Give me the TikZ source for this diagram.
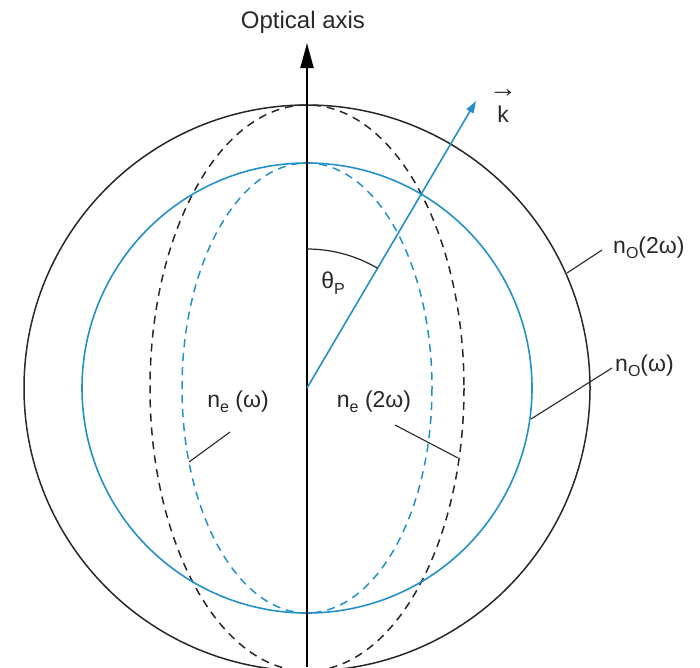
\documentclass[tikz,border=0pt]{standalone}
\usepackage{fontspec}
\setmainfont{Liberation Sans}
\usetikzlibrary{arrows.meta}
\definecolor{cblue}{RGB}{35,145,200}
\definecolor{cgray}{RGB}{40,40,40}
\newcommand{\lsub}[1]{\raisebox{-0.45ex}{\fontsize{16}{16}\selectfont #1}}
\tikzset{
  lab/.style={font=\fontsize{23}{23}\selectfont, text=cgray, inner sep=1pt},
  leader/.style={draw=cgray, line width=1.1pt},
  solidblack/.style={draw=cgray, line width=1.5pt},
  solidblue/.style={draw=cblue, line width=1.6pt},
  dashblack/.style={draw=cgray, line width=1.5pt, dash pattern=on 8pt off 6pt},
  dashblue/.style={draw=cblue, line width=1.5pt, dash pattern=on 8pt off 6pt},
}
\begin{document}
\begin{tikzpicture}[x=1pt,y=-1pt]
\useasboundingbox (0,0) rectangle (700,667);
\begin{scope}
\clip (0,0) rectangle (700,667);
\coordinate (O) at (307,388);
% circles and ellipses
\draw[solidblack] (O) circle[radius=283];
\draw[dashblack] (O) ellipse[x radius=157, y radius=283];
\draw[solidblue] (O) circle[radius=225];
\draw[dashblue] (O) ellipse[x radius=125, y radius=225];
% optical axis
\coordinate (axbot) at (307,667);
\coordinate (axtop) at (307,43);
\draw[line width=2pt, -{Triangle[length=25pt,width=13pt]}] (axbot) -- (axtop);
% k vector
\coordinate (ktip) at (476,101);
\draw[draw=cblue, line width=1.6pt, -{Triangle[length=12pt,width=8pt]}, cblue] (O) -- (ktip);
% theta arc
\draw[draw=cgray, line width=1.2pt] (O) ++(-90:139) arc[start angle=-90, end angle=-59.4, radius=139];
\end{scope}
% labels
\node[lab, font=\fontsize{24}{24}\selectfont] (optax) at (303,22) {Optical axis};
\node[lab, inner sep=0pt] (klab) at (503,114) {k};
\node[lab, inner sep=0pt, font=\fontsize{28}{28}\selectfont] (karrow) at (503,94) {→};
\node[lab] (theta) at (333,283) {θ\lsub{P}};
\node[lab, anchor=west] (no2w) at (612,248) {n\lsub{O}(2ω)};
\node[lab, anchor=west] (now) at (614,366) {n\lsub{O}(ω)};
\node[lab] (new) at (238,402) {n\lsub{e} (ω)};
\node[lab] (ne2w) at (374,402) {n\lsub{e} (2ω)};
% leader lines
\coordinate (s1) at (602,250);
\coordinate (a1) at (567,273);
\coordinate (s2) at (612,368);
\coordinate (a2) at (531,419);
\coordinate (s3) at (230,432);
\coordinate (a3) at (189,462);
\coordinate (s4) at (395,425);
\coordinate (a4) at (458,458);
\draw[leader] (s1) -- (a1);
\draw[leader] (s2) -- (a2);
\draw[leader] (s3) -- (a3);
\draw[leader] (s4) -- (a4);
\end{tikzpicture}
\end{document}
